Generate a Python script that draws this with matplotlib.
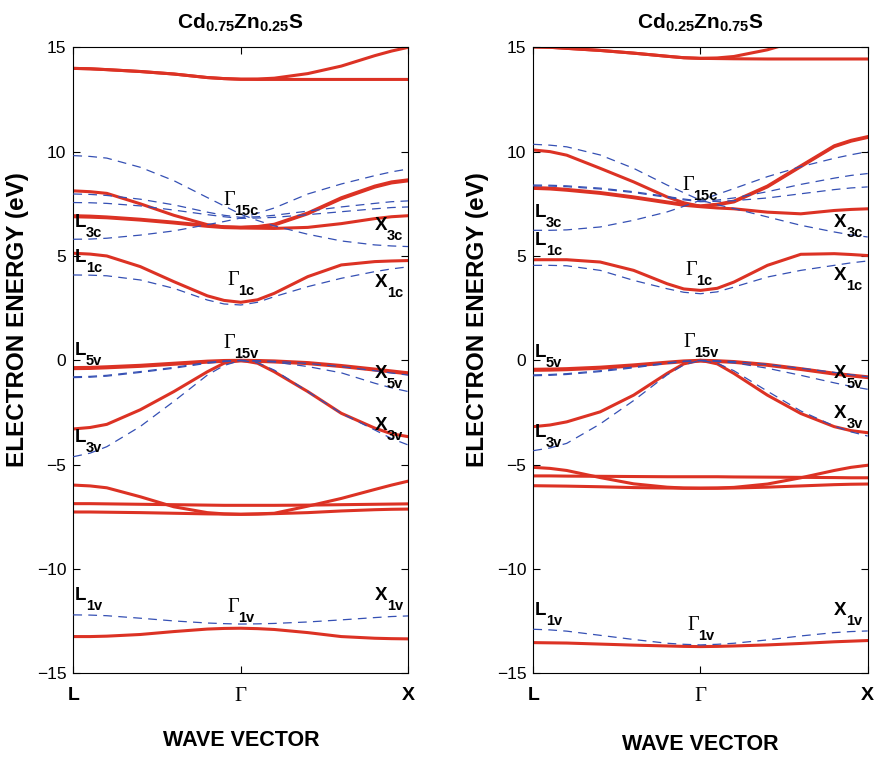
import matplotlib
matplotlib.use("Agg")
import matplotlib.pyplot as plt

plt.rcParams["font.family"] = ["Liberation Sans", "DejaVu Sans"]
plt.rcParams["mathtext.fontset"] = "custom"
plt.rcParams["mathtext.rm"] = "Liberation Serif"
plt.rcParams["mathtext.it"] = "Liberation Serif:italic"
plt.rcParams["mathtext.bf"] = "Liberation Sans:bold"
plt.rcParams["mathtext.sf"] = "Liberation Sans"

# k path L -> Gamma -> X
K = [0.0, 0.1, 0.2, 0.4, 0.6, 0.8, 0.9, 1.0, 1.1, 1.2, 1.4, 1.6, 1.8, 1.9, 2.0]
k_ticks = [0, 1, 2]
k_labels = ["L", "\u0393", "X"]
e_ticks = [-15, -10, -5, 0, 5, 10, 15]

titles = ["Cd$_{\\mathbf{0.75}}$Zn$_{\\mathbf{0.25}}$S",
          "Cd$_{\\mathbf{0.25}}$Zn$_{\\mathbf{0.75}}$S"]

# Cd0.75Zn0.25S, solid (red) bands, eV
cd75_solid = [
    [13.99, 13.97, 13.93, 13.84, 13.72, 13.55, 13.5, 13.47, 13.46, 13.46, 13.46, 13.46, 13.46, 13.46, 13.46],
    [13.99, 13.97, 13.93, 13.84, 13.72, 13.55, 13.5, 13.47, 13.48, 13.52, 13.74, 14.1, 14.6, 14.82, 15.0],
    [8.12, 8.08, 8.0, 7.5, 6.95, 6.5, 6.39, 6.36, 6.39, 6.48, 7.02, 7.74, 8.3, 8.5, 8.6],
    [6.93, 6.91, 6.87, 6.76, 6.62, 6.46, 6.4, 6.38, 6.41, 6.52, 7.06, 7.79, 8.35, 8.55, 8.65],
    [6.88, 6.86, 6.83, 6.72, 6.58, 6.42, 6.36, 6.34, 6.33, 6.32, 6.37, 6.55, 6.79, 6.88, 6.93],
    [5.13, 5.09, 5.0, 4.49, 3.77, 3.09, 2.87, 2.78, 2.9, 3.21, 4.01, 4.57, 4.73, 4.76, 4.78],
    [-0.35, -0.34, -0.31, -0.24, -0.14, -0.04, -0.01, 0.0, -0.01, -0.03, -0.11, -0.25, -0.42, -0.51, -0.6],
    [-0.4, -0.39, -0.36, -0.29, -0.19, -0.09, -0.05, -0.03, -0.05, -0.08, -0.16, -0.3, -0.47, -0.56, -0.65],
    [-3.29, -3.22, -3.07, -2.37, -1.5, -0.55, -0.14, 0.0, -0.14, -0.55, -1.5, -2.54, -3.25, -3.52, -3.66],
    [-5.98, -6.02, -6.11, -6.54, -7.02, -7.3, -7.36, -7.38, -7.36, -7.33, -6.99, -6.62, -6.19, -5.98, -5.79],
    [-6.87, -6.87, -6.88, -6.9, -6.92, -6.94, -6.95, -6.95, -6.95, -6.95, -6.94, -6.92, -6.9, -6.89, -6.88],
    [-7.27, -7.27, -7.28, -7.3, -7.33, -7.36, -7.37, -7.38, -7.37, -7.35, -7.3, -7.22, -7.16, -7.14, -7.13],
    [-13.24, -13.24, -13.22, -13.14, -13.0, -12.88, -12.85, -12.84, -12.86, -12.9, -13.05, -13.24, -13.32, -13.34, -13.35],
]

# Cd0.75Zn0.25S, dashed (blue) bands, eV
cd75_dashed = [
    [9.81, 9.77, 9.69, 9.25, 8.61, 7.8, 7.4, 7.0, 6.7, 6.44, 6.04, 5.72, 5.53, 5.48, 5.45],
    [5.8, 5.81, 5.85, 6.0, 6.2, 6.5, 6.65, 6.82, 7.05, 7.3, 7.97, 8.45, 8.85, 9.03, 9.17],
    [7.97, 7.95, 7.9, 7.72, 7.45, 7.1, 6.95, 6.85, 6.88, 6.95, 7.15, 7.35, 7.52, 7.6, 7.64],
    [7.56, 7.55, 7.52, 7.4, 7.2, 6.98, 6.88, 6.8, 6.82, 6.85, 6.98, 7.12, 7.26, 7.32, 7.35],
    [4.09, 4.08, 4.05, 3.85, 3.45, 2.89, 2.7, 2.65, 2.78, 3.05, 3.53, 3.93, 4.25, 4.38, 4.48],
    [-0.79, -0.77, -0.72, -0.54, -0.34, -0.1, -0.03, 0.0, -0.02, -0.05, -0.15, -0.3, -0.5, -0.61, -0.71],
    [-0.83, -0.81, -0.76, -0.58, -0.38, -0.14, -0.06, -0.02, -0.04, -0.08, -0.3, -0.6, -1.1, -1.32, -1.5],
    [-4.62, -4.45, -4.14, -3.17, -1.97, -0.71, -0.25, 0.0, -0.12, -0.47, -1.5, -2.54, -3.34, -3.75, -4.06],
    [-12.2, -12.21, -12.24, -12.36, -12.49, -12.59, -12.62, -12.64, -12.63, -12.61, -12.54, -12.44, -12.33, -12.28, -12.25],
]

# Cd0.25Zn0.75S, solid (red) bands, eV
cd25_solid = [
    [15.02, 15.0, 14.95, 14.85, 14.72, 14.57, 14.5, 14.47, 14.46, 14.45, 14.44, 14.44, 14.44, 14.44, 14.44],
    [15.02, 15.0, 14.95, 14.85, 14.72, 14.57, 14.5, 14.47, 14.49, 14.56, 14.88, 15.35, 15.8, 16.0, 16.2],
    [10.08, 10.0, 9.83, 9.2, 8.55, 7.83, 7.55, 7.38, 7.45, 7.59, 8.31, 9.28, 10.24, 10.5, 10.68],
    [8.28, 8.25, 8.19, 8.04, 7.83, 7.59, 7.47, 7.4, 7.48, 7.63, 8.35, 9.32, 10.28, 10.54, 10.72],
    [8.24, 8.21, 8.15, 8.0, 7.79, 7.55, 7.43, 7.36, 7.3, 7.26, 7.1, 7.02, 7.18, 7.23, 7.26],
    [4.82, 4.82, 4.82, 4.71, 4.31, 3.67, 3.42, 3.35, 3.45, 3.75, 4.55, 5.08, 5.11, 5.07, 5.02],
    [-0.43, -0.42, -0.4, -0.33, -0.22, -0.09, -0.03, 0.0, -0.02, -0.06, -0.2, -0.4, -0.62, -0.71, -0.79],
    [-0.48, -0.47, -0.45, -0.38, -0.27, -0.13, -0.07, -0.04, -0.06, -0.1, -0.24, -0.44, -0.66, -0.75, -0.83],
    [-3.18, -3.1, -2.95, -2.47, -1.67, -0.63, -0.17, 0.0, -0.17, -0.63, -1.67, -2.55, -3.18, -3.37, -3.47],
    [-5.13, -5.18, -5.28, -5.62, -5.92, -6.08, -6.12, -6.13, -6.12, -6.09, -5.93, -5.63, -5.28, -5.13, -5.03],
    [-5.54, -5.54, -5.55, -5.56, -5.57, -5.58, -5.58, -5.58, -5.58, -5.59, -5.6, -5.61, -5.62, -5.63, -5.63],
    [-6.01, -6.02, -6.03, -6.06, -6.1, -6.12, -6.13, -6.13, -6.13, -6.12, -6.08, -6.02, -5.96, -5.94, -5.93],
    [-13.53, -13.54, -13.55, -13.6, -13.65, -13.69, -13.71, -13.72, -13.71, -13.69, -13.64, -13.57, -13.49, -13.46, -13.43],
]

# Cd0.25Zn0.75S, dashed (blue) bands, eV
cd25_dashed = [
    [10.35, 10.31, 10.23, 9.84, 9.2, 8.4, 8.03, 7.67, 7.46, 7.27, 6.87, 6.47, 6.15, 6.01, 5.91],
    [6.23, 6.23, 6.25, 6.39, 6.71, 7.11, 7.38, 7.67, 7.95, 8.23, 8.8, 9.28, 9.68, 9.85, 10.0],
    [8.4, 8.39, 8.36, 8.25, 8.08, 7.85, 7.73, 7.63, 7.68, 7.78, 8.08, 8.43, 8.73, 8.86, 8.95],
    [8.36, 8.35, 8.32, 8.21, 8.04, 7.81, 7.69, 7.6, 7.62, 7.65, 7.78, 7.98, 8.18, 8.26, 8.31],
    [4.55, 4.55, 4.53, 4.31, 3.83, 3.43, 3.26, 3.19, 3.28, 3.51, 3.99, 4.31, 4.55, 4.67, 4.76],
    [-0.7, -0.68, -0.64, -0.5, -0.32, -0.12, -0.04, 0.0, -0.02, -0.06, -0.2, -0.38, -0.58, -0.69, -0.79],
    [-0.74, -0.72, -0.68, -0.54, -0.36, -0.15, -0.06, -0.02, -0.05, -0.12, -0.38, -0.72, -1.08, -1.25, -1.39],
    [-4.33, -4.2, -3.98, -3.05, -1.93, -0.7, -0.22, 0.0, -0.14, -0.5, -1.48, -2.43, -3.15, -3.43, -3.63],
    [-12.89, -12.92, -12.98, -13.18, -13.38, -13.56, -13.61, -13.64, -13.61, -13.56, -13.4, -13.21, -13.05, -13.0, -12.97],
]

# symmetry point labels: letter + subscript
point_letters = ["L", "L", "X", "X", "\u0393", "\u0393", "L", "\u0393",
                 "X", "L", "X", "L", "\u0393", "X"]
point_subs = ["3c", "1c", "3c", "1c", "15c", "1c", "5v", "15v",
              "5v", "3v", "3v", "1v", "1v", "1v"]

# where the labels sit (letter baseline, eV; left edge, k)
cd75_label_e = [6.39, 4.71, 6.25, 3.51, 7.44, 3.61, 0.25, 0.59,
                -0.85, -3.91, -3.34, -11.48, -12.06, -11.48]
cd75_label_k = [0.01, 0.01, 1.8, 1.8, 0.894, 0.918, 0.01, 0.894,
                1.8, 0.01, 1.8, 0.01, 0.918, 1.8]
cd25_label_e = [6.87, 5.53, 6.39, 3.85, 8.16, 4.09, 0.16, 0.64,
                -0.85, -3.67, -2.76, -12.2, -12.92, -12.2]
cd25_label_k = [0.01, 0.01, 1.8, 1.8, 0.889, 0.907, 0.01, 0.895,
                1.8, 0.01, 1.8, 0.01, 0.919, 1.8]

RED = "#dc3224"
BLUE = "#3550b4"


def draw_panel(ax, solid, dashed, title, label_k, label_e, label_y):
    for band in solid:
        ax.plot(K, band, color=RED, lw=2.2, solid_joinstyle="round", zorder=2)
    for band in dashed:
        ax.plot(K, band, color=BLUE, lw=0.9, ls=(0, (7, 5)), zorder=3)

    renderer = fig.canvas.get_renderer()
    for ch, sub, k, e in zip(point_letters, point_subs, label_k, label_e):
        if ch == "\u0393":
            t = ax.text(k, e, ch, ha="left", va="baseline", fontsize=14.5,
                        family="Liberation Serif", zorder=5)
        else:
            t = ax.text(k, e, ch, ha="left", va="baseline", fontsize=13.5,
                        fontweight="bold", zorder=5)
        w = t.get_window_extent(renderer).width * 72 / fig.dpi
        ax.annotate(sub, xy=(k, e), xytext=(w - 0.3, -7), textcoords="offset points",
                    ha="left", va="baseline", fontsize=10.5, fontweight="bold", zorder=5)

    ax.set_xlim(0, 2)
    ax.set_ylim(-15, 15)
    ax.set_yticks(e_ticks)
    ax.set_xticks(k_ticks)
    ax.set_xticklabels(k_labels)
    ax.tick_params(direction="in", top=True, right=True, length=5, width=0.8,
                   labelsize=12.5)
    ax.tick_params(axis="x", pad=10)
    ax.tick_params(axis="y", pad=5)
    for i, t in enumerate(ax.get_xticklabels()):
        if i == 1:
            t.set_fontfamily("Liberation Serif")
            t.set_fontsize(15)
        else:
            t.set_fontweight("bold")
            t.set_fontsize(14)
    for s in ax.spines.values():
        s.set_linewidth(0.8)
    ax.set_title(title, fontsize=15, fontweight="bold", pad=14)

    pos = ax.get_position()
    cx = (pos.x0 + pos.x1) / 2
    fig.text(cx, label_y, "WAVE VECTOR", ha="center", va="center",
             fontsize=15.5, fontweight="bold")
    fig.text(pos.x0 - 0.063, 1 - 320 / 757, "ELECTRON ENERGY (eV)", rotation=90,
             ha="center", va="center", fontsize=17.5, fontweight="bold")


fig = plt.figure(figsize=(8.79, 7.57), dpi=100)
ax1 = fig.add_axes([73.3 / 879, 1 - 673.3 / 757, 335 / 879, 626 / 757])
ax2 = fig.add_axes([533.3 / 879, 1 - 673.3 / 757, 334.4 / 879, 626 / 757])

draw_panel(ax1, cd75_solid, cd75_dashed, titles[0], cd75_label_k, cd75_label_e, 1 - 740.5 / 757)
draw_panel(ax2, cd25_solid, cd25_dashed, titles[1], cd25_label_k, cd25_label_e, 1 - 745 / 757)

fig.savefig("out.png", dpi=100)
